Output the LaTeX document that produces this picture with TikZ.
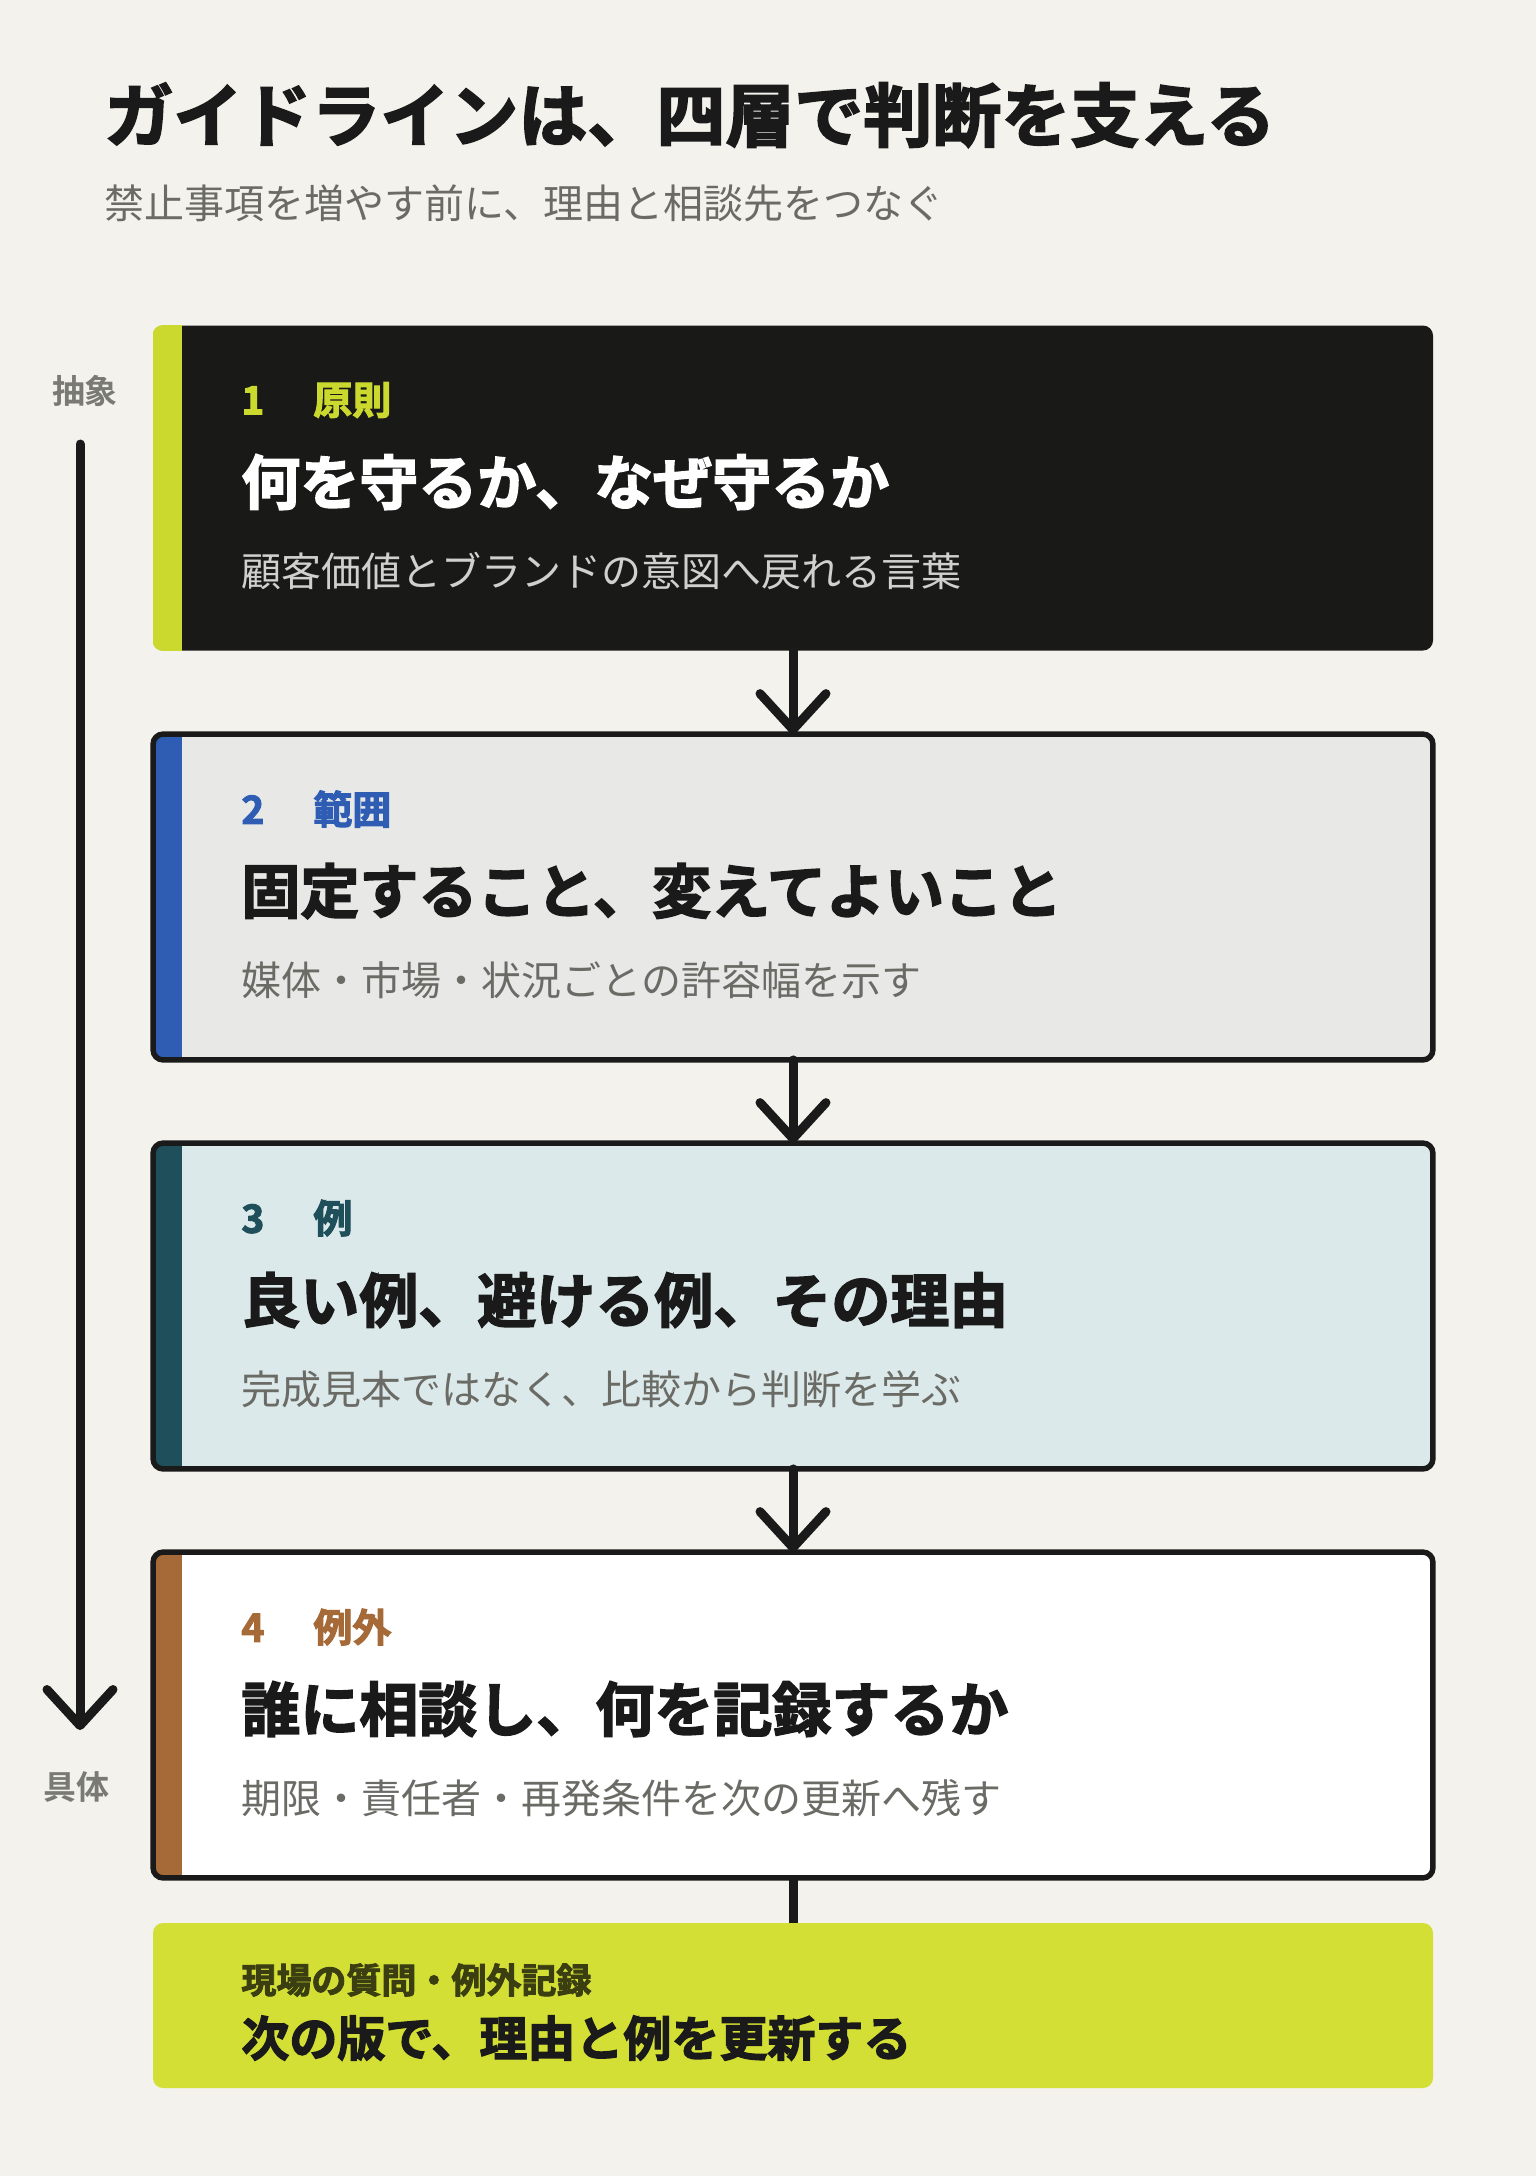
\documentclass[tikz,border=0pt]{standalone}
\usepackage{fontspec}
\setmainfont{Noto Sans CJK JP}
\newfontfamily\jp{Noto Sans CJK JP}
\newfontfamily\jpheavy{Noto Sans CJK JP}[UprightFont=* Bold,FakeBold=2.6]
\newfontfamily\jpside{Noto Sans CJK JP}[UprightFont=* Bold]
\usetikzlibrary{arrows.meta}
\definecolor{paper}{HTML}{F3F2EC}
\definecolor{ink}{HTML}{1A1A1A}
\definecolor{night}{HTML}{191A18}
\definecolor{lime}{HTML}{CBD92E}
\definecolor{limebox}{HTML}{D3DF35}
\definecolor{olive}{HTML}{3A3E10}
\definecolor{blue}{HTML}{2F5DB4}
\definecolor{mist}{HTML}{E8E9E6}
\definecolor{teal}{HTML}{1F4F5A}
\definecolor{ice}{HTML}{DCE9EA}
\definecolor{brown}{HTML}{A66A38}
\definecolor{muted}{HTML}{6B6B66}
\definecolor{pale}{HTML}{D0D0CC}
\begin{document}
\begin{tikzpicture}[x=0.5pt,y=-0.5pt,
  ttl/.style={anchor=west,inner sep=0,font=\jpheavy\fontsize{34.5pt}{40pt}\selectfont,text=ink},
  sub/.style={anchor=west,inner sep=0,font=\jp\fontsize{20pt}{24pt}\selectfont,text=muted},
  layer/.style={minimum width=639.5pt,minimum height=162.5pt,inner sep=0,rounded corners=5pt},
  lab/.style={anchor=west,inner sep=0,font=\jpheavy\fontsize{19.5pt}{22pt}\selectfont},
  head/.style={anchor=west,inner sep=0,font=\jpheavy\fontsize{29.5pt}{34pt}\selectfont,text=ink},
  desc/.style={anchor=west,inner sep=0,font=\jp\fontsize{20pt}{24pt}\selectfont,text=muted},
  side/.style={inner sep=0,font=\jpside\fontsize{16.5pt}{20pt}\selectfont,text=muted!90},
  rim/.style={line width=2.75pt,draw=ink,rounded corners=5pt},
  flow/.style={line width=4.5pt,draw=ink,line cap=round,-{Straight Barb[length=18pt,width=33pt,round]}}]
\def\tx{241};
\def\bar{14.5pt};

\fill[paper] (0,0) rectangle (1536,2176);

\node[ttl] (T) at (104,115) {ガイドラインは、四層で判断を支える};
\node[sub] (S) at (104,203) {禁止事項を増やす前に、理由と相談先をつなぐ};

% axis on the left
\node[side] (abs) at (85,391) {抽象};
\node[side] (con) at (76,1787) {具体};
\coordinate (axtop) at (80,444);
\coordinate (axbot) at (80,1730);
\draw[flow] (axtop) -- (axbot);

% layer 1
\node[layer,minimum width=640pt,fill=night] (L1) at (793,488) {};
\begin{scope}
\clip[rounded corners=5pt] (L1.north west) rectangle (L1.south east);
\fill[lime] (L1.north west) rectangle ([xshift=\bar]L1.south west);
\end{scope}
\node[lab,text=lime] (L1a) at (\tx,400) {\makebox[36pt][l]{1}原則};
\node[head,text=white] (L1b) at (\tx,482) {何を守るか、なぜ守るか};
\node[desc,text=pale] (L1c) at (\tx,571) {顧客価値とブランドの意図へ戻れる言葉};

% layer 2
\node[layer,fill=mist] (L2) at (793,897) {};
\begin{scope}
\clip[rounded corners=5pt] (L2.north west) rectangle (L2.south east);
\fill[blue] (L2.north west) rectangle ([xshift=\bar]L2.south west);
\end{scope}
\draw[rim] (L2.north west) rectangle (L2.south east);
\node[lab,text=blue] (L2a) at (\tx,809) {\makebox[36pt][l]{2}範囲};
\node[head] (L2b) at (\tx,891) {固定すること、変えてよいこと};
\node[desc] (L2c) at (\tx,980) {媒体・市場・状況ごとの許容幅を示す};
\draw[flow] (L1.south) -- (L2.north);

% layer 3
\node[layer,fill=ice] (L3) at (793,1306) {};
\begin{scope}
\clip[rounded corners=5pt] (L3.north west) rectangle (L3.south east);
\fill[teal] (L3.north west) rectangle ([xshift=\bar]L3.south west);
\end{scope}
\draw[rim] (L3.north west) rectangle (L3.south east);
\node[lab,text=teal] (L3a) at (\tx,1218) {\makebox[36pt][l]{3}例};
\node[head] (L3b) at (\tx,1300) {良い例、避ける例、その理由};
\node[desc] (L3c) at (\tx,1389) {完成見本ではなく、比較から判断を学ぶ};
\draw[flow] (L2.south) -- (L3.north);

% layer 4
\node[layer,fill=white] (L4) at (793,1715) {};
\begin{scope}
\clip[rounded corners=5pt] (L4.north west) rectangle (L4.south east);
\fill[brown] (L4.north west) rectangle ([xshift=\bar]L4.south west);
\end{scope}
\draw[rim] (L4.north west) rectangle (L4.south east);
\node[lab,text=brown] (L4a) at (\tx,1627) {\makebox[36pt][l]{4}例外};
\node[head] (L4b) at (\tx,1709) {誰に相談し、何を記録するか};
\node[desc] (L4c) at (\tx,1798) {期限・責任者・再発条件を次の更新へ残す};
\draw[flow] (L3.south) -- (L4.north);

% feedback box
\node[layer,minimum width=640pt,minimum height=82.5pt,fill=limebox] (F) at (793,2005.5) {};
\node[lab,text=olive,font=\jpheavy\fontsize{17.5pt}{20pt}\selectfont] (Fa) at (\tx,1980) {現場の質問・例外記録};
\node[head,font=\jpheavy\fontsize{24pt}{28pt}\selectfont] (Fb) at (\tx,2038) {次の版で、理由と例を更新する};
\draw[line width=4.5pt,ink] (L4.south) -- (F.north);
\end{tikzpicture}
\end{document}
